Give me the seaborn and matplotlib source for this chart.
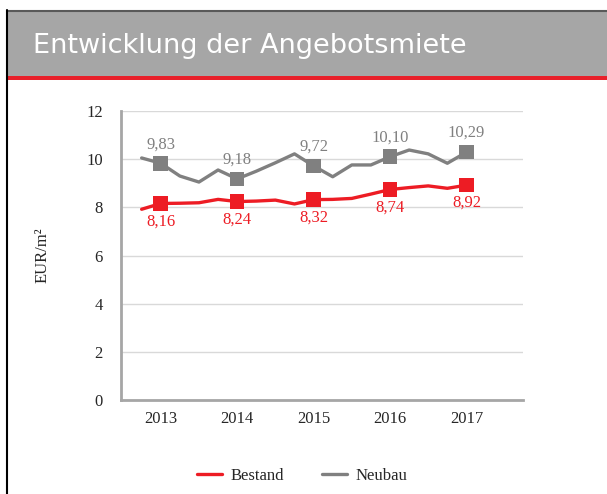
import numpy as np
import pandas as pd
import matplotlib
matplotlib.use("Agg")
import matplotlib.pyplot as plt
from matplotlib.patches import Rectangle
from matplotlib.lines import Line2D
import seaborn as sns

# ==========================================
# DATA
# ==========================================
jahre = [2013, 2014, 2015, 2016, 2017]
# quarterly time points (decimal years, year marker sits at the integer)
zeitpunkte = [2012.75, 2013.0, 2013.25, 2013.5, 2013.75, 2014.0, 2014.25, 2014.5, 2014.75,
              2015.0, 2015.25, 2015.5, 2015.75, 2016.0, 2016.25, 2016.5, 2016.75, 2017.0]
bestand = [7.92, 8.16, 8.17, 8.19, 8.33, 8.24, 8.26, 8.30, 8.14,
           8.32, 8.33, 8.37, 8.55, 8.74, 8.82, 8.89, 8.79, 8.92]
neubau = [10.05, 9.83, 9.30, 9.05, 9.55, 9.18, 9.50, 9.85, 10.22,
          9.72, 9.27, 9.76, 9.76, 10.10, 10.38, 10.22, 9.83, 10.29]
bestand_jahr = [8.16, 8.24, 8.32, 8.74, 8.92]
neubau_jahr = [9.83, 9.18, 9.72, 10.10, 10.29]

ROT = "#ed1c24"
GRAU = "#808080"

df_linie = pd.DataFrame({
    "zeit": zeitpunkte * 2,
    "wert": bestand + neubau,
    "serie": ["Bestand"] * len(bestand) + ["Neubau"] * len(neubau),
})
df_jahr = pd.DataFrame({
    "zeit": jahre * 2,
    "wert": bestand_jahr + neubau_jahr,
    "serie": ["Bestand"] * len(jahre) + ["Neubau"] * len(jahre),
})
palette = {"Bestand": ROT, "Neubau": GRAU}

# ==========================================
# FIGURE
# ==========================================
sns.set_style("white")
plt.rcParams["font.family"] = ["Liberation Serif", "DejaVu Serif"]

W, H = 607, 494
fig = plt.figure(figsize=(W / 100, H / 100), dpi=100)
fig.patch.set_facecolor("white")

# header band
fig.add_artist(Rectangle((7 / W, 1 - 76 / H), 1, 65 / H, transform=fig.transFigure,
                         facecolor="#a6a6a6", edgecolor="none"))
fig.add_artist(Rectangle((7 / W, 1 - 80 / H), 1, 4 / H, transform=fig.transFigure,
                         facecolor="#e8202a", edgecolor="none"))
fig.add_artist(Line2D([7 / W, 1], [1 - 11 / H, 1 - 11 / H], transform=fig.transFigure,
                      color="#595959", lw=1.5))
fig.add_artist(Line2D([6.5 / W, 6.5 / W], [0, 1 - 10 / H], transform=fig.transFigure,
                      color="black", lw=1.5))
fig.text(33 / W, 1 - 46 / H, "Entwicklung der Angebotsmiete", color="white",
         fontsize=19.5, family="DejaVu Sans", va="center", ha="left")

ax = fig.add_axes([121 / W, 1 - 400 / H, (523 - 121) / W, (400 - 111) / H])

sns.lineplot(data=df_linie, x="zeit", y="wert", hue="serie", palette=palette,
             linewidth=2.4, ax=ax, legend=False, zorder=3)
sns.scatterplot(data=df_jahr, x="zeit", y="wert", hue="serie", palette=palette,
                marker="s", s=110, edgecolor="none", ax=ax, legend=False, zorder=4)

# data labels
for j, v in zip(jahre, neubau_jahr):
    ax.annotate(f"{v:.2f}".replace(".", ","), (j, v), xytext=(0, 8),
                textcoords="offset points", ha="center", va="bottom",
                color=GRAU, fontsize=12)
for j, v in zip(jahre, bestand_jahr):
    ax.annotate(f"{v:.2f}".replace(".", ","), (j, v), xytext=(0, -7),
                textcoords="offset points", ha="center", va="top",
                color=ROT, fontsize=12)

ax.set_ylim(0, 12)
ax.set_xlim(2012.48, 2017.74)
ax.set_yticks(range(0, 13, 2))
ax.set_xticks(jahre)
ax.set_xticklabels([str(j) for j in jahre])
ax.set_xticks([j - 0.5 for j in jahre] + [2017.5], minor=True)
ax.grid(axis="y", color="#d9d9d9", lw=1)
ax.set_axisbelow(True)
ax.set_xlabel("")
ax.set_ylabel("")

for s in ["top", "right"]:
    ax.spines[s].set_visible(False)
for s in ["left", "bottom"]:
    ax.spines[s].set_color("#a6a6a6")
    ax.spines[s].set_linewidth(2)

ax.tick_params(axis="y", length=0, pad=13, labelsize=12)
ax.tick_params(axis="x", which="major", length=0, pad=8, labelsize=12)
ax.tick_params(axis="x", which="minor", length=4, width=1.5, color="#a6a6a6", direction="out")

fig.text(43 / W, 1 - 255 / H, "EUR/m²", rotation=90, ha="center", va="center",
         fontsize=12)

# legend
handles = [Line2D([], [], color=ROT, lw=2.4), Line2D([], [], color=GRAU, lw=2.4)]
fig.legend(handles, ["Bestand", "Neubau"], loc="center", ncol=2,
           bbox_to_anchor=(302 / W, 1 - 476 / H), frameon=False, fontsize=12,
           handlelength=1.5, handletextpad=0.5, columnspacing=2.3)

fig.savefig("out.png", dpi=100, facecolor="white")
